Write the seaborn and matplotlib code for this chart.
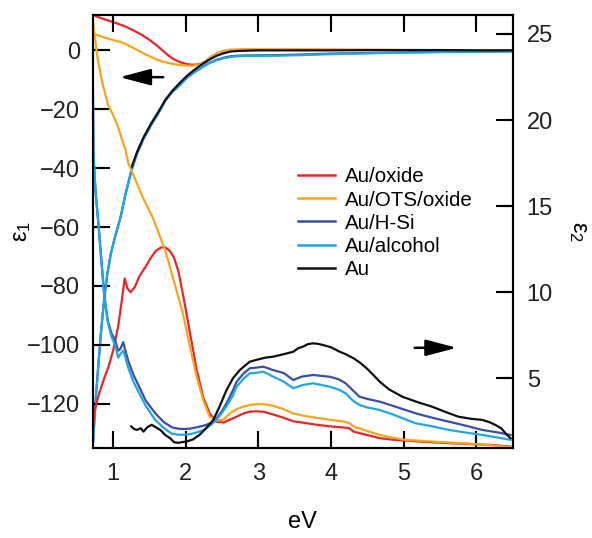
import pandas as pd
import matplotlib.pyplot as plt
import seaborn as sns
from matplotlib.lines import Line2D

plt.rcParams['font.family'] = ['Liberation Sans', 'DejaVu Sans']
plt.rcParams['mathtext.fontset'] = 'custom'
plt.rcParams['mathtext.rm'] = 'Liberation Sans'
plt.rcParams['mathtext.default'] = 'rm'
for axis in ('xtick', 'ytick'):
    plt.rcParams[f'{axis}.direction'] = 'in'
    plt.rcParams[f'{axis}.major.size'] = 12
    plt.rcParams[f'{axis}.major.width'] = 1.5
    plt.rcParams[f'{axis}.color'] = 'black'
    plt.rcParams[f'{axis}.labelsize'] = 17
plt.rcParams['xtick.top'] = True
plt.rcParams['axes.linewidth'] = 1.5
plt.rcParams['axes.edgecolor'] = 'black'

SAMPLES = ['Au/oxide', 'Au/OTS/oxide', 'Au/H-Si', 'Au/alcohol', 'Au']
COLORS = {
    'Au/oxide': '#E8262A',
    'Au/OTS/oxide': '#F7A51C',
    'Au/H-Si': '#3A4FA3',
    'Au/alcohol': '#1FA6E4',
    'Au': '#111111',
}
X_TICKS = [1, 2, 3, 4, 5, 6]
E1_TICKS = [0, -20, -40, -60, -80, -100, -120]
E2_TICKS = [5, 10, 15, 20, 25]

# ---- eps1 (left axis) ----
OXIDE_E1_X = [0.72, 0.85, 1.0, 1.15, 1.28, 1.4, 1.51, 1.62, 1.73, 1.82, 1.92, 2.02, 2.1,
              2.2, 2.28, 2.36, 2.47, 2.6, 2.8, 3.0, 3.5, 4.0, 4.5, 5.0, 5.5, 6.0, 6.48]
OXIDE_E1_Y = [12.0, 10.8, 9.6, 8.3, 6.8, 5.2, 3.4, 1.3, -1.1, -2.8, -4.0, -4.7, -4.9,
              -4.7, -3.6, -2.0, -0.6, 0.1, 0.2, 0.2, 0.2, 0.2, 0.1, 0.1, 0.0, 0.0, 0.0]

OTS_E1_X = [0.72, 0.85, 1.0, 1.11, 1.22, 1.34, 1.45, 1.57, 1.68, 1.8, 1.92, 2.02, 2.1,
            2.2, 2.28, 2.36, 2.47, 2.6, 2.8, 3.0, 3.5, 4.0, 4.5, 5.0, 5.5, 6.0, 6.48]
OTS_E1_Y = [5.7, 4.6, 3.5, 2.8, 1.6, 0.0, -1.4, -2.8, -3.8, -4.5, -5.0, -5.2, -5.2,
            -4.8, -3.6, -2.0, -0.6, 0.2, 0.3, 0.3, 0.3, 0.2, 0.2, 0.1, 0.1, 0.0, 0.0]

HSI_E1_X = [0.72, 0.76, 0.80, 0.84, 0.88, 0.92, 0.97, 1.03, 1.1, 1.17, 1.25, 1.33, 1.42,
            1.52, 1.62, 1.72, 1.82, 1.92, 2.02, 2.12, 2.22, 2.32, 2.42, 2.52, 2.62, 2.72,
            2.85, 3.0, 3.3, 3.6, 4.0, 4.5, 5.0, 5.5, 6.0, 6.48]
HSI_E1_Y = [-135, -119, -106, -94, -84, -76, -69, -63, -57, -49, -41, -35, -30,
            -25.5, -21.5, -17, -14, -11.8, -9.2, -7.4, -5.8, -4.3, -3.2, -2.5, -2.0, -1.8,
            -1.7, -1.7, -1.6, -1.4, -1.1, -0.9, -0.7, -0.5, -0.4, -0.3]

ALC_E1_X = HSI_E1_X
ALC_E1_Y = [-135, -119, -106, -94, -84, -76, -69, -63, -57, -49, -41, -35, -30,
            -25.5, -21.5, -17, -14, -11.8, -9.2, -7.4, -5.8, -4.4, -3.4, -2.7, -2.2, -2.0,
            -1.9, -1.9, -1.8, -1.6, -1.3, -1.0, -0.8, -0.6, -0.5, -0.4]

AU_E1_X = [1.25, 1.33, 1.42, 1.52, 1.62, 1.72, 1.82, 1.92, 2.02, 2.12, 2.22, 2.32, 2.42,
           2.52, 2.62, 2.72, 2.85, 3.0, 3.5, 4.0, 4.5, 5.0, 5.5, 6.0, 6.48]
AU_E1_Y = [-40, -34.5, -29.5, -25, -21, -16.8, -13.6, -11, -8.6, -6.6, -4.8, -3.2, -1.9,
           -1.0, -0.4, -0.2, -0.1, 0.0, 0.0, 0.0, 0.1, 0.1, 0.1, 0.0, 0.0]

# ---- eps2 (right axis) ----
OXIDE_E2_X = [0.72, 0.74, 0.8, 0.87, 0.94, 1.0, 1.07, 1.12, 1.16, 1.2, 1.24, 1.3, 1.36,
              1.45, 1.52, 1.59, 1.66, 1.72, 1.78, 1.84, 1.9, 1.97, 2.06, 2.15, 2.24, 2.33,
              2.42, 2.52, 2.61, 2.7, 2.79, 2.88, 2.97, 3.07, 3.2, 3.35, 3.48, 3.65, 3.8,
              4.0, 4.15, 4.25, 4.31, 4.45, 4.67, 4.85, 5.03, 5.3, 5.62, 5.9, 6.2, 6.48]
OXIDE_E2_Y = [1.8, 3.0, 4.0, 4.9, 5.7, 6.6, 8.0, 9.5, 10.8, 10.2, 10.0, 10.3, 10.9,
              11.5, 12.0, 12.4, 12.6, 12.6, 12.4, 12.0, 11.2, 9.7, 7.6, 5.5, 3.9, 2.97,
              2.48, 2.43, 2.6, 2.77, 2.95, 3.06, 3.08, 3.06, 2.9, 2.7, 2.5, 2.4, 2.3,
              2.2, 2.15, 2.1, 1.9, 1.75, 1.52, 1.43, 1.38, 1.3, 1.23, 1.18, 1.13, 1.03]

OTS_E2_X = [0.72, 0.75, 0.79, 0.85, 0.93, 1.0, 1.07, 1.12, 1.17, 1.21, 1.25, 1.33, 1.41,
            1.48, 1.56, 1.64, 1.72, 1.8, 1.88, 1.97, 2.06, 2.15, 2.24, 2.33, 2.42, 2.52,
            2.61, 2.7, 2.79, 2.9, 3.0, 3.1, 3.2, 3.35, 3.48, 3.65, 3.8, 4.0, 4.15, 4.25,
            4.31, 4.45, 4.67, 4.85, 5.03, 5.3, 5.62, 5.9, 6.2, 6.48]
OTS_E2_Y = [25.9, 24.8, 23.5, 22.2, 20.9, 20.3, 19.6, 18.9, 18.3, 17.5, 17.1, 16.3, 15.5,
            14.9, 14.2, 13.3, 12.4, 11.2, 10.0, 8.6, 6.8, 5.1, 3.74, 2.77, 2.54, 2.6,
            2.97, 3.2, 3.35, 3.46, 3.5, 3.48, 3.4, 3.2, 2.95, 2.8, 2.7, 2.58, 2.5, 2.4,
            2.2, 2.0, 1.71, 1.55, 1.42, 1.35, 1.27, 1.2, 1.1, 1.0]

HSI_E2_X = [0.72, 0.725, 0.73, 0.76, 0.80, 0.84, 0.88, 0.93, 0.98, 1.03, 1.07, 1.1, 1.14,
            1.17, 1.21, 1.28, 1.36, 1.45, 1.58, 1.7, 1.81, 1.9, 1.97, 2.05, 2.15, 2.25,
            2.35, 2.42, 2.5, 2.58, 2.65, 2.7, 2.79, 2.88, 2.93, 3.07, 3.2, 3.35, 3.48,
            3.6, 3.75, 3.98, 4.1, 4.2, 4.3, 4.39, 4.5, 4.67, 4.85, 5.16, 5.4, 5.62, 5.85,
            6.08, 6.3, 6.47]
HSI_E2_Y = [23.5, 20.5, 18.0, 15.8, 13.9, 11.8, 9.8, 8.3, 7.6, 7.2, 6.6, 6.7, 7.1,
            6.6, 6.0, 5.2, 4.5, 3.7, 2.97, 2.45, 2.15, 2.07, 2.05, 2.07, 2.15, 2.25,
            2.4, 2.65, 3.1, 3.7, 4.3, 4.8, 5.25, 5.58, 5.6, 5.67, 5.48, 5.3, 4.9,
            5.1, 5.19, 5.09, 4.95, 4.71, 4.3, 3.93, 3.8, 3.64, 3.4, 2.97, 2.7, 2.48, 2.25,
            2.0, 1.85, 1.71]

ALC_E2_X = HSI_E2_X
ALC_E2_Y = [23.5, 20.5, 18.0, 15.8, 13.9, 11.8, 9.7, 8.2, 7.4, 6.9, 6.2, 6.4, 6.6,
            6.2, 5.6, 4.8, 4.13, 3.4, 2.58, 2.1, 1.78, 1.72, 1.72, 1.75, 1.85, 2.0,
            2.3, 2.58, 3.0, 3.5, 4.0, 4.51, 4.95, 5.29, 5.29, 5.38, 5.1, 4.8, 4.42,
            4.6, 4.71, 4.51, 4.35, 4.13, 3.7, 3.45, 3.3, 3.16, 2.9, 2.39, 2.2, 2.0, 1.85,
            1.71, 1.55, 1.42]

AU_E2_X = [1.25, 1.29, 1.33, 1.38, 1.42, 1.47, 1.53, 1.59, 1.65, 1.72, 1.79, 1.84, 1.9,
           1.96, 2.01, 2.1, 2.19, 2.28, 2.38, 2.47, 2.56, 2.65, 2.75, 2.88, 3.0, 3.1,
           3.2, 3.35, 3.48, 3.55, 3.61, 3.68, 3.75, 3.82, 3.89, 4.0, 4.12, 4.2, 4.31,
           4.4, 4.49, 4.58, 4.67, 4.8, 4.98, 5.2, 5.39, 5.57, 5.75, 5.92, 6.08, 6.18,
           6.26, 6.34, 6.42, 6.47]
AU_E2_Y = [2.2, 2.05, 2.0, 2.1, 1.9, 2.15, 2.3, 2.15, 2.0, 1.7, 1.5, 1.28, 1.25,
           1.3, 1.32, 1.45, 1.71, 2.1, 2.58, 3.4, 4.3, 5.0, 5.5, 5.96, 6.1, 6.2,
           6.25, 6.4, 6.54, 6.75, 6.83, 6.98, 7.03, 7.0, 6.93, 6.8, 6.54, 6.4, 6.16,
           5.9, 5.58, 5.2, 4.8, 4.35, 3.93, 3.6, 3.35, 3.05, 2.77, 2.65, 2.58, 2.45,
           2.29, 2.1, 1.71, 1.52]


def long_frame(series):
    parts = [pd.DataFrame({'eV': xs, 'eps': ys, 'sample': name}) for name, xs, ys in series]
    return pd.concat(parts, ignore_index=True)


eps1 = long_frame([
    ('Au/oxide', OXIDE_E1_X, OXIDE_E1_Y),
    ('Au/OTS/oxide', OTS_E1_X, OTS_E1_Y),
    ('Au/H-Si', HSI_E1_X, HSI_E1_Y),
    ('Au/alcohol', ALC_E1_X, ALC_E1_Y),
    ('Au', AU_E1_X, AU_E1_Y),
])
eps2 = long_frame([
    ('Au/oxide', OXIDE_E2_X, OXIDE_E2_Y),
    ('Au/OTS/oxide', OTS_E2_X, OTS_E2_Y),
    ('Au/H-Si', HSI_E2_X, HSI_E2_Y),
    ('Au/alcohol', ALC_E2_X, ALC_E2_Y),
    ('Au', AU_E2_X, AU_E2_Y),
])

fig = plt.figure(figsize=(5.92, 5.38), dpi=100)
ax = fig.add_axes([0.1566, 0.1673, 0.7095, 0.8048])
ax2 = ax.twinx()

line_kw = dict(hue='sample', hue_order=SAMPLES, palette=COLORS, sort=False,
               estimator=None, legend=False, linewidth=1.6)
sns.lineplot(data=eps1, x='eV', y='eps', ax=ax, **line_kw)
sns.lineplot(data=eps2, x='eV', y='eps', ax=ax2, **line_kw)
ax.xaxis.get_major_ticks()
ax.yaxis.get_major_ticks()
ax2.yaxis.get_major_ticks()

ax.set_xlim(0.72, 6.5)
ax.set_ylim(-135, 12)
ax2.set_ylim(0.95, 26.1)
ax.set_xticks(X_TICKS)
ax.set_yticks(E1_TICKS)
ax2.set_yticks(E2_TICKS)

ax.set_xlabel('eV', fontsize=17)
ax.xaxis.set_label_coords(0.5, -0.145)
ax.set_ylabel('ε$_1$', fontsize=17, rotation=90)
ax.yaxis.set_label_coords(-0.142, 0.5)
ax2.set_ylabel('ε$_2$', fontsize=17, rotation=270, va='bottom')
ax2.yaxis.set_label_coords(1.13, 0.5)

arrow = dict(arrowstyle='-|>,head_length=0.95,head_width=0.25', mutation_scale=20,
             lw=1.8, color='black', shrinkA=0, shrinkB=0)
ax.annotate('', xy=(1.09, -9.1), xytext=(1.69, -9.1), arrowprops=arrow)
ax2.annotate('', xy=(5.73, 6.77), xytext=(5.15, 6.77), arrowprops=arrow)

handles = [Line2D([], [], color=COLORS[s], lw=1.8) for s in SAMPLES]
ax2.legend(handles, SAMPLES, loc='upper left', bbox_to_anchor=(0.489, 0.648),
           frameon=False, fontsize=14.8, borderaxespad=0, borderpad=0,
           handlelength=1.8, handletextpad=0.5, labelspacing=0.2)

tick_kw = dict(direction='in', length=12, width=1.5, color='black', labelcolor='#222222')
ax.tick_params(axis='x', top=True, bottom=True, labelsize=17, pad=11, **tick_kw)
ax.tick_params(axis='y', left=True, right=False, labelsize=17, pad=9, **tick_kw)
ax2.tick_params(axis='y', right=True, left=False, labelsize=17, pad=10, **tick_kw)

# inward tick marks drawn as plain lines too, so they show on every side
fx = 12 / (ax.get_position().width * fig.get_figwidth() * fig.dpi)
fy = 12 / (ax.get_position().height * fig.get_figheight() * fig.dpi)
mark = dict(color='black', lw=1.5, clip_on=False, zorder=6, solid_capstyle='butt')
for x in X_TICKS:
    ax.plot([x, x], [0, fy], transform=ax.get_xaxis_transform(), **mark)
    ax.plot([x, x], [1, 1 - fy], transform=ax.get_xaxis_transform(), **mark)
for y in E1_TICKS:
    ax.plot([0, fx], [y, y], transform=ax.get_yaxis_transform(), **mark)
for y in E2_TICKS:
    ax2.plot([1, 1 - fx], [y, y], transform=ax2.get_yaxis_transform(), **mark)

fig.savefig('out.png', dpi=100)
